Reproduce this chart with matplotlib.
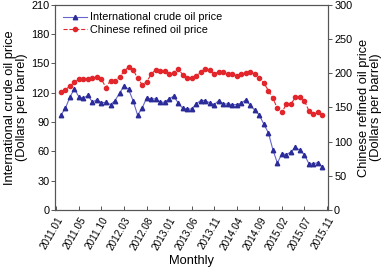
import matplotlib
matplotlib.use("Agg")
import matplotlib.pyplot as plt
import numpy as np

plt.rcParams['font.family'] = ['Liberation Sans', 'DejaVu Sans']

tick_labels = ["2011.01", "2011.05", "2011.10", "2012.03", "2012.08", "2013.01",
               "2013.06", "2013.11", "2014.04", "2014.09", "2015.02", "2015.07", "2015.11"]

crude = [97.2, 104.2, 115.6, 124.2, 115.6, 114.6, 117.3, 110.4, 113.1, 109.7,
         110.4, 107.9, 112.1, 119.5, 127.0, 123.5, 112.1, 97.2, 104.2, 114.6,
         113.8, 113.8, 110.4, 110.4, 113.8, 116.6, 109.7, 104.2, 103.4, 103.4,
         108.6, 112.1, 112.1, 109.7, 107.9, 112.1, 108.6, 108.6, 107.9, 107.9,
         109.4, 112.8, 107.2, 102.1, 97.2, 87.8, 79.2, 61.9, 48.0, 57.7,
         56.7, 59.5, 64.2, 61.1, 56.7, 47.3, 47.3, 48.6, 43.9]

refined = [173.3, 176.1, 181.1, 187.1, 190.9, 191.9, 191.9, 193.0, 194.5, 190.9,
           179.1, 189.4, 189.4, 194.5, 202.6, 209.3, 205.3, 193.0, 183.5, 187.1,
           198.3, 205.3, 203.4, 202.8, 199.4, 200.9, 206.8, 198.0, 193.6, 193.0,
           196.1, 202.0, 206.8, 204.2, 199.4, 202.0, 202.0, 198.3, 199.4, 196.1,
           198.3, 200.4, 202.3, 199.4, 193.0, 186.0, 174.6, 163.8, 148.5, 142.6,
           154.9, 154.9, 164.8, 165.7, 159.8, 145.0, 140.1, 142.6, 139.0]

x = np.arange(len(crude))

fig = plt.figure(figsize=(3.88, 2.72), dpi=100)
ax = fig.add_axes([0.143, 0.228, 0.702, 0.754])
ax2 = ax.twinx()

blue_line = "#6666CC"
blue_mk = "#2B2B99"
red = "#E3262B"

l1, = ax.plot(x, crude, color=blue_line, lw=0.8, marker='^', markersize=3.2,
              markerfacecolor=blue_mk, markeredgecolor=blue_mk,
              label="International crude oil price")
l2, = ax2.plot(x, refined, color=red, lw=0.8, ls='--', marker='o', markersize=3.0,
               markerfacecolor=red, markeredgecolor=red,
               label="Chinese refined oil price")

ax.set_xlim(-1.2, len(crude) + 0.2)
ax.set_ylim(0, 210)
ax2.set_ylim(0, 300)
ax.set_yticks(np.arange(0, 211, 30))
ax2.set_yticks(np.arange(0, 301, 50))
ax.set_xticks(np.linspace(-1, len(crude), len(tick_labels)))
ax.set_xticklabels(tick_labels, rotation=60, ha='right', rotation_mode='anchor', fontsize=7.2)

spine_c = "#555555"
for a in (ax, ax2):
    for s in a.spines.values():
        s.set_color(spine_c)
        s.set_linewidth(0.8)
ax.tick_params(axis='y', direction='out', length=3, width=0.7, color=spine_c, labelsize=7.8, pad=1.5)
ax2.tick_params(axis='y', direction='out', length=3, width=0.7, color=spine_c, labelsize=7.8, pad=1.5)
ax.tick_params(axis='x', direction='in', length=3, width=0.7, color=spine_c, pad=4)

ax.set_ylabel("International crude oil price\n(Dollars per barrel)", fontsize=9.3, labelpad=2, linespacing=1.05)
ax2.set_ylabel("Chinese refined oil price\n(Dollars per barrel)", fontsize=9.3, rotation=90,
               labelpad=4, linespacing=1.05)
ax.set_xlabel("Monthly", fontsize=9.3, labelpad=2)

ax.legend(handles=[l1, l2], loc='upper left', frameon=False, fontsize=7.8,
          handlelength=2.2, handletextpad=0.3, borderaxespad=0.3, labelspacing=0.2)

fig.savefig("out.png", dpi=100)
